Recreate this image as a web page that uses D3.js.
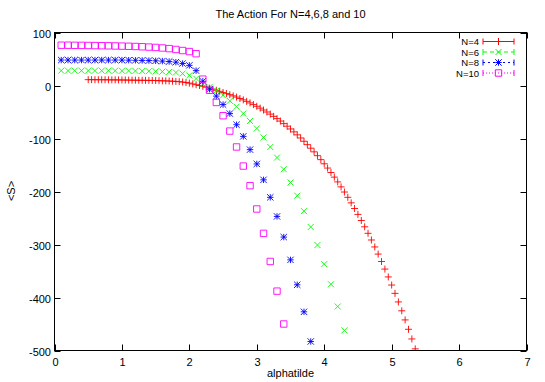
<!DOCTYPE html>
<html>
<head>
<meta charset="utf-8">
<script src="https://cdn.jsdelivr.net/npm/d3@7"></script>
<style>
  html, body { margin: 0; padding: 0; background: #fff; }
  svg text { font-family: "Liberation Sans", Arial, sans-serif; fill: #000; }
</style>
</head>
<body>
<svg id="chart" width="545" height="382"></svg>
<script>
// N=4 : dense scan, step 0.05
const alphaN4 = [0.50,0.55,0.60,0.65,0.70,0.75,0.80,0.85,0.90,0.95,1.00,1.05,1.10,1.15,1.20,1.25,1.30,1.35,1.40,1.45,
  1.50,1.55,1.60,1.65,1.70,1.75,1.80,1.85,1.90,1.95,2.00,2.05,2.10,2.15,2.20,2.25,2.30,2.35,2.40,2.45,
  2.50,2.55,2.60,2.65,2.70,2.75,2.80,2.85,2.90,2.95,3.00,3.05,3.10,3.15,3.20,3.25,3.30,3.35,3.40,3.45,
  3.50,3.55,3.60,3.65,3.70,3.75,3.80,3.85,3.90,3.95,4.00,4.05,4.10,4.15,4.20,4.25,4.30,4.35,4.40,4.45,
  4.50,4.55,4.60,4.65,4.70,4.75,4.80,4.85,4.90,4.95,5.00,5.05,5.10,5.15,5.20,5.25,5.30,5.35];
const actionN4 = [11.0,11.0,10.9,10.9,10.8,10.8,10.7,10.6,10.6,10.5,10.4,10.3,10.2,10.1,10.0,9.9,9.8,9.7,9.6,9.5,
  9.3,9.1,8.9,8.7,8.4,8.1,7.7,7.2,6.5,5.6,4.5,3.0,1.5,0.0,-1.5,-3.2,-5.0,-7.0,-9.0,-11.0,
  -13.2,-15.2,-17.3,-19.6,-21.9,-24.5,-27.1,-29.9,-32.9,-36.0,-39.2,-42.7,-46.3,-50.0,-54.0,-58.2,-62.5,-67.1,-71.9,-76.8,
  -82.0,-87.5,-93.1,-99.0,-105.2,-111.6,-118.3,-125.2,-132.4,-139.9,-147.7,-155.8,-164.2,-172.9,-181.9,-191.3,-201.0,-211.0,-221.4,-232.1,
  -243.2,-254.7,-266.6,-278.9,-291.5,-304.6,-318.1,-332.1,-346.4,-361.2,-376.5,-392.2,-408.4,-425.1,-442.3,-460.0,-478.2,-496.9];

// N=6,8,10 : step 0.1
const alphaN6 = [0.1,0.2,0.3,0.4,0.5,0.6,0.7,0.8,0.9,1.0,1.1,1.2,1.3,1.4,1.5,1.6,1.7,1.8,1.9,2.0,
  2.1,2.2,2.3,2.4,2.5,2.6,2.7,2.8,2.9,3.0,3.1,3.2,3.3,3.4,3.5,3.6,3.7,3.8,3.9,4.0,4.1,4.2,4.3];
const actionN6 = [28,28,28,28,28,28,28,28,28,27.8,27.7,27.5,27.3,27,26.7,26.2,25.6,24.5,22.5,19,
  13,3,-3,-10,-18.5,-29,-40,-53,-67,-81,-98,-116,-136,-158,-183,-208,-237,-267,-301,-337,-375,-417,-462];

const alphaN8 = [0.1,0.2,0.3,0.4,0.5,0.6,0.7,0.8,0.9,1.0,1.1,1.2,1.3,1.4,1.5,1.6,1.7,1.8,1.9,2.0,
  2.1,2.2,2.3,2.4,2.5,2.6,2.7,2.8,2.9,3.0,3.1,3.2,3.3,3.4,3.5,3.6,3.7,3.8];
const actionN8 = [48,48,48,48,48,48,48,48,48,48,47.8,47.6,47.3,47,46.6,46,45.2,44,41.5,38,
  28,8,-7,-20,-36,-53,-74,-96,-121,-148,-178,-211,-247,-286,-329,-376,-427,-483];

const alphaN10 = [0.1,0.2,0.3,0.4,0.5,0.6,0.7,0.8,0.9,1.0,1.1,1.2,1.3,1.4,1.5,1.6,1.7,1.8,1.9,2.0,
  2.1,2.2,2.3,2.4,2.5,2.6,2.7,2.8,2.9,3.0,3.1,3.2,3.3,3.4];
const actionN10 = [76,76,75.8,75.7,75.5,75.3,75.1,74.9,74.6,74.3,74,73.6,73.1,72.5,71.8,70.8,69.6,68,66,64,
  60,12,-9,-32,-57,-86,-116,-152,-189,-233,-279,-332,-388,-450];

const xTicks = [0,1,2,3,4,5,6,7];
const yTicks = [100,0,-100,-200,-300,-400,-500];

const series = [
  { label: "N=4",  alpha: alphaN4,  action: actionN4,  color: "#ff0000", marker: "plus",   dash: null },
  { label: "N=6",  alpha: alphaN6,  action: actionN6,  color: "#00ff00", marker: "cross",  dash: "4,3" },
  { label: "N=8",  alpha: alphaN8,  action: actionN8,  color: "#0000ff", marker: "star",   dash: "2,3" },
  { label: "N=10", alpha: alphaN10, action: actionN10, color: "#ff00ff", marker: "square", dash: "1,2" }
];

const svg = d3.select("#chart");
const plotL = 54.5, plotR = 526.5, plotT = 32.5, plotB = 350.5;

const x = d3.scaleLinear().domain([0, 7]).range([plotL, plotR]);
const y = d3.scaleLinear().domain([-500, 100]).range([plotB, plotT]);

function markerPath(type, r) {
  switch (type) {
    case "plus":  return `M${-r},0H${r}M0,${-r}V${r}`;
    case "cross": return `M${-r},${-r}L${r},${r}M${r},${-r}L${-r},${r}`;
    case "star":  return `M${-r},0H${r}M0,${-r}V${r}M${-r},${-r}L${r},${r}M${r},${-r}L${-r},${r}`;
    case "square": return `M${-r},${-r}H${r}V${r}H${-r}Z`;
  }
}
const markerSize = { plus: 3.5, cross: 3, star: 3.2, square: 3.2 };

// title and labels
svg.append("text").attr("x", 290.5).attr("y", 18).attr("text-anchor", "middle")
  .attr("font-size", 11).text("The Action For N=4,6,8 and 10");
svg.append("text").attr("x", 290.5).attr("y", 377).attr("text-anchor", "middle")
  .attr("font-size", 11).text("alphatilde");
svg.append("text").attr("transform", "translate(15,191) rotate(-90)").attr("text-anchor", "middle")
  .attr("font-size", 11).text("<S>");

// ticks, inward and mirrored
const tickLen = 6;
const tk = svg.append("g").attr("stroke", "#000").attr("stroke-width", 1);
xTicks.forEach(t => {
  const px = Math.round(x(t)) + 0.5;
  tk.append("line").attr("x1", px).attr("x2", px).attr("y1", plotB).attr("y2", plotB - tickLen);
  tk.append("line").attr("x1", px).attr("x2", px).attr("y1", plotT).attr("y2", plotT + tickLen);
  svg.append("text").attr("x", px).attr("y", 366).attr("text-anchor", "middle")
    .attr("font-size", 11).text(t);
});
yTicks.forEach(t => {
  const py = Math.round(y(t)) + 0.5;
  tk.append("line").attr("x1", plotL).attr("x2", plotL + tickLen).attr("y1", py).attr("y2", py);
  tk.append("line").attr("x1", plotR).attr("x2", plotR - tickLen).attr("y1", py).attr("y2", py);
  svg.append("text").attr("x", 51).attr("y", py + 4).attr("text-anchor", "end")
    .attr("font-size", 11).text(t);
});

// clip to plot area
svg.append("clipPath").attr("id", "plotclip").append("rect")
  .attr("x", plotL).attr("y", plotT).attr("width", plotR - plotL).attr("height", plotB - plotT);

const plot = svg.append("g").attr("clip-path", "url(#plotclip)");
series.forEach(s => {
  const pts = s.alpha.map((a, i) => ({ a, v: s.action[i] }));
  plot.append("g").selectAll("path")
    .data(pts)
    .join("path")
    .attr("transform", d => `translate(${x(d.a)},${y(d.v)})`)
    .attr("d", markerPath(s.marker, markerSize[s.marker]))
    .attr("fill", "none")
    .attr("stroke", s.color)
    .attr("stroke-width", 0.9);
});

// legend
const legX1 = 483, legX2 = 514, legTextX = 479;
series.forEach((s, i) => {
  const ly = 41.5 + i * 10.5;
  const g = svg.append("g");
  g.append("text").attr("x", legTextX).attr("y", ly + 3.5).attr("text-anchor", "end")
    .attr("font-size", 9.5).text(s.label);
  g.append("line").attr("x1", legX1).attr("x2", legX2).attr("y1", ly).attr("y2", ly)
    .attr("stroke", s.color).attr("stroke-width", 1).attr("stroke-dasharray", s.dash);
  [legX1, legX2].forEach(ex => {
    g.append("line").attr("x1", ex).attr("x2", ex).attr("y1", ly - 3).attr("y2", ly + 3)
      .attr("stroke", s.color).attr("stroke-width", 1);
  });
  g.append("path").attr("transform", `translate(${(legX1 + legX2) / 2},${ly})`)
    .attr("d", markerPath(s.marker, markerSize[s.marker]))
    .attr("fill", "none").attr("stroke", s.color).attr("stroke-width", 1);
});

// border
svg.append("rect").attr("x", plotL).attr("y", plotT).attr("width", plotR - plotL).attr("height", plotB - plotT)
  .attr("fill", "none").attr("stroke", "#000").attr("stroke-width", 1);
</script>
</body>
</html>
